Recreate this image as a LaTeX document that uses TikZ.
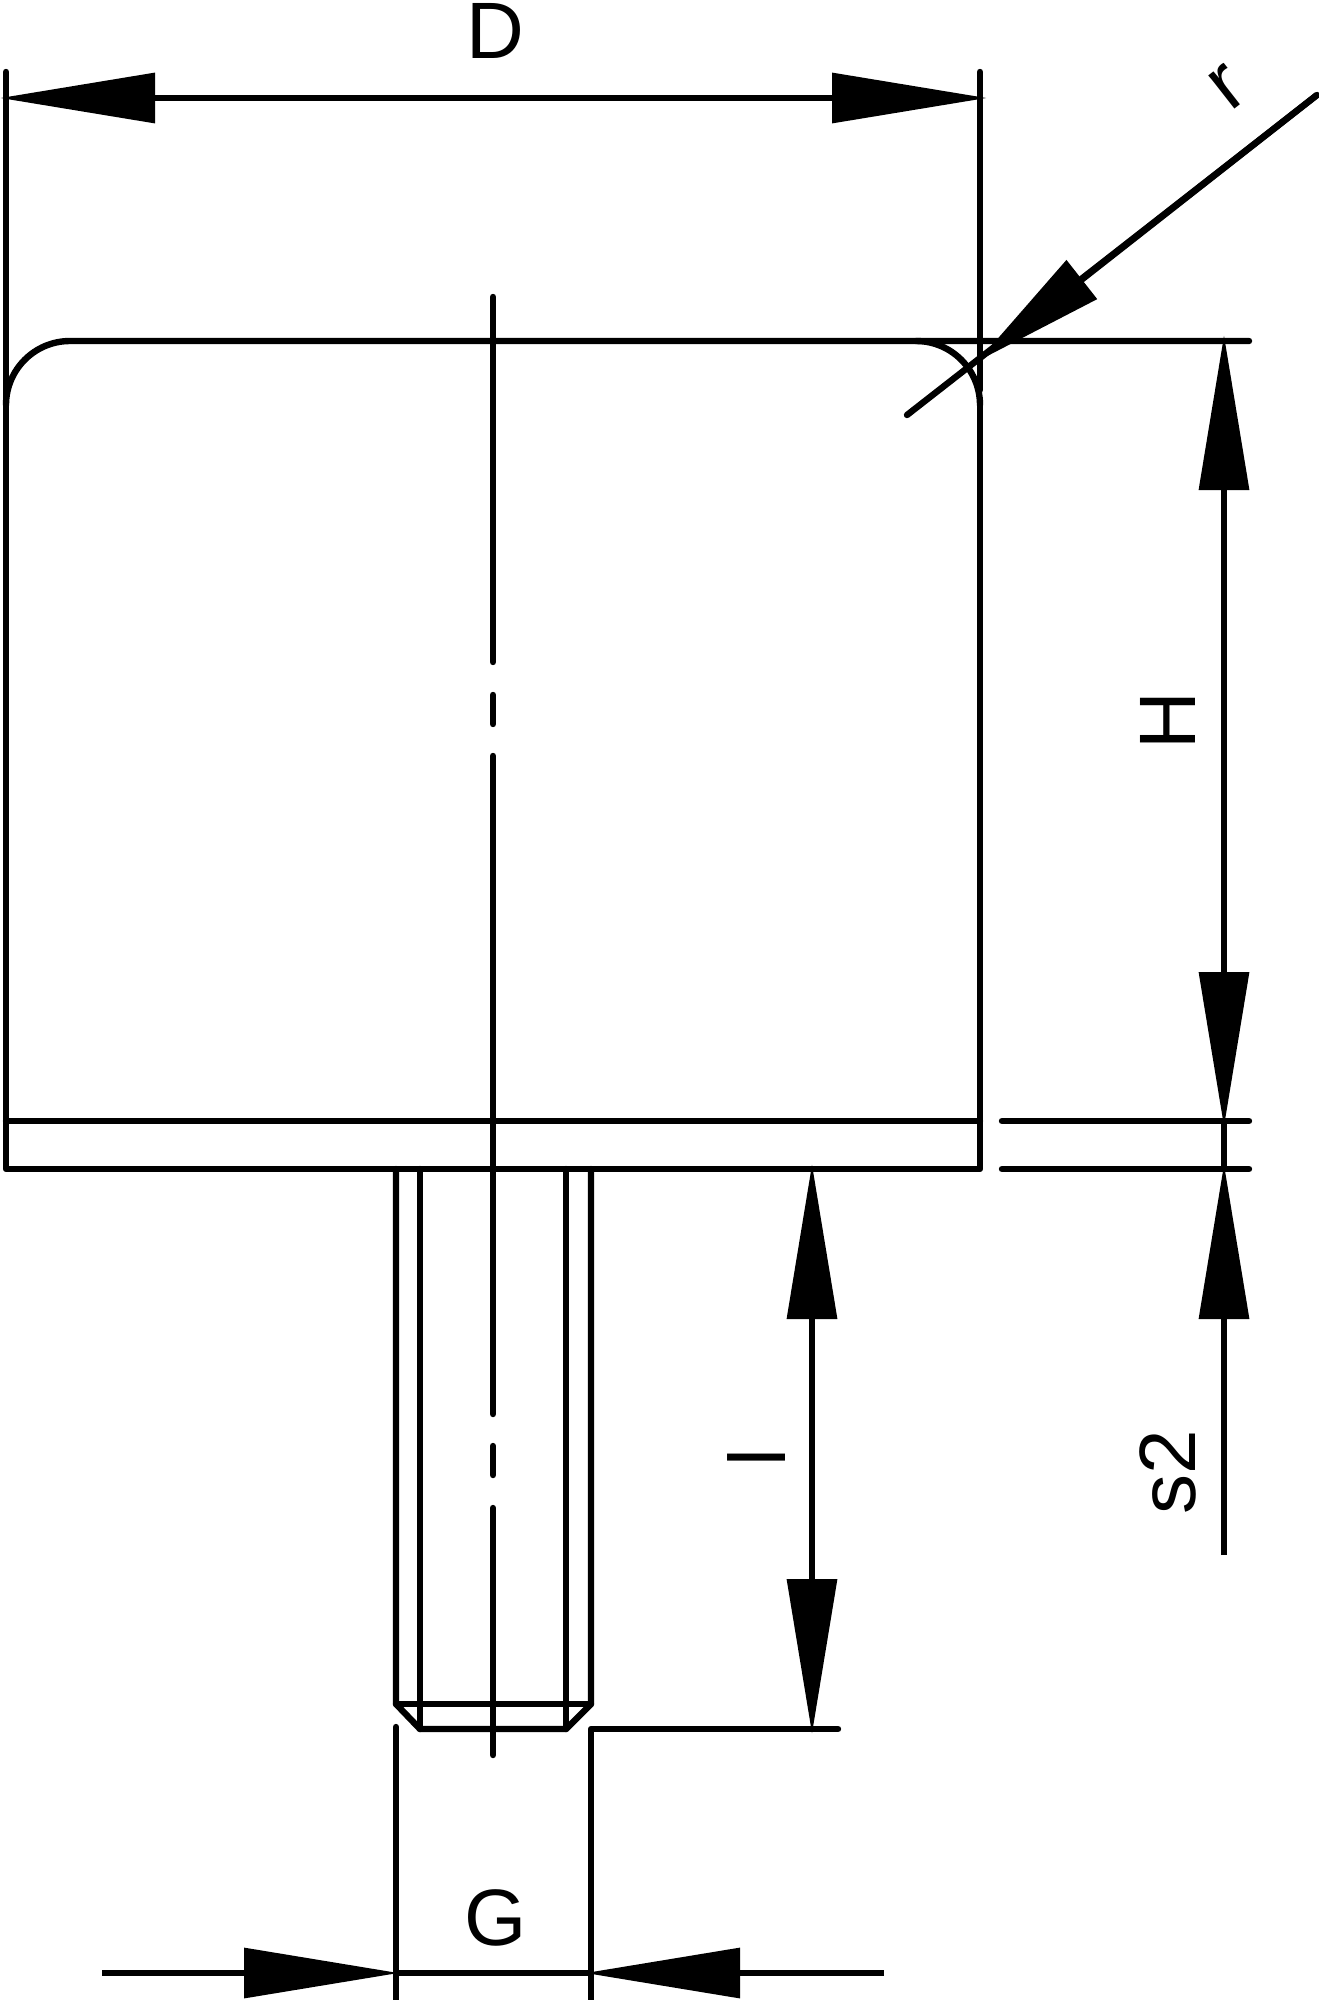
\documentclass[tikz,border=0pt]{standalone}
\usepackage{fontspec}
\setmainfont{Liberation Sans}
\usetikzlibrary{arrows.meta}
\tikzset{
  x=1pt,y=-1pt,
  part/.style={draw=black,line width=6.4pt,line cap=round,line join=round},
  dimtip/.tip={Triangle[length=155pt,width=49pt]},
  radtip/.tip={Triangle[length=132pt,width=48pt]},
  dimline/.style={draw=black,line width=6.4pt,line cap=butt},
  dimlabel/.style={inner sep=0pt,font=\fontsize{80}{80}\selectfont,text=black},
}
\begin{document}
\begin{tikzpicture}
\useasboundingbox (0,0) rectangle (1319,2000);
% body outline
\draw[part] (6,72) -- (6,1169) -- (980,1169) -- (980,405);
\draw[part] (980,72) -- (980,390);
\draw[part] (6,405) arc[start angle=180,end angle=270,radius=64] -- (1249,341);
\draw[part] (916,341) arc[start angle=270,end angle=360,radius=64];
\draw[part] (6,1121) -- (980,1121);
% centre line
\draw[part] (493,297) -- (493,662);
\draw[part] (493,695) -- (493,724);
\draw[part] (493,756) -- (493,1414);
\draw[part] (493,1446) -- (493,1475);
\draw[part] (493,1508) -- (493,1755);
% threaded stud
\draw[part] (396,1169) -- (396,1704) -- (420,1729) -- (566,1729) -- (591,1704) -- (591,1169);
\draw[part] (420,1169) -- (420,1729);
\draw[part] (566,1169) -- (566,1729);
\draw[part] (396,1704) -- (591,1704);
% extension lines
\draw[part] (396,1727) -- (396,2000);
\draw[part] (591,2000) -- (591,1729) -- (838,1729);
\draw[part] (1002,1121) -- (1249,1121);
\draw[part] (1002,1169) -- (1249,1169);
% dimension D
\coordinate (dL) at (0,98);
\coordinate (dR) at (987,98);
\draw[dimline,dimtip-dimtip] (dL) -- (dR);
\node[dimlabel] (labelD) at (495,31) {D};
% dimension G
\coordinate (gA) at (102,1973);
\coordinate (gL) at (399,1973);
\coordinate (gMl) at (396,1973);
\coordinate (gMr) at (591,1973);
\coordinate (gR) at (585,1973);
\coordinate (gB) at (884,1973);
\draw[dimline,-dimtip] (gA) -- (gL);
\draw[dimline,-dimtip] (gB) -- (gR);
\draw[dimline] (gMl) -- (gMr);
\node[dimlabel] (labelG) at (496,1918) {G};
% dimension l
\coordinate (lT) at (812,1164);
\coordinate (lB) at (812,1734);
\draw[dimline,dimtip-dimtip] (lT) -- (lB);
\node[dimlabel,rotate=90] (labelL) at (757,1458) {l};
% dimension H
\coordinate (hT) at (1224,335);
\coordinate (hB) at (1224,1127);
\draw[dimline,dimtip-dimtip] (hT) -- (hB);
\node[dimlabel,rotate=90] (labelH) at (1168,721) {H};
% dimension s2
\coordinate (sA) at (1224,1121);
\coordinate (sC) at (1224,1169);
\coordinate (sB) at (1224,1555);
\coordinate (sT) at (1224,1164);
\draw[dimline] (sA) -- (sC);
\draw[dimline,-radtip,-dimtip] (sB) -- (sT);
\node[dimlabel,rotate=90] (labelS) at (1168,1472) {s2};
% radius r
\coordinate (rA) at (1317,95);
\coordinate (rTip) at (978,361);
\coordinate (rB) at (907,415);
\draw[dimline,line cap=round] (rA) -- (rB);
\draw[dimline,-radtip] (rA) -- (rTip);
\node[dimlabel,rotate=38] (labelR) at (1228,87) {r};
\end{tikzpicture}
\end{document}
